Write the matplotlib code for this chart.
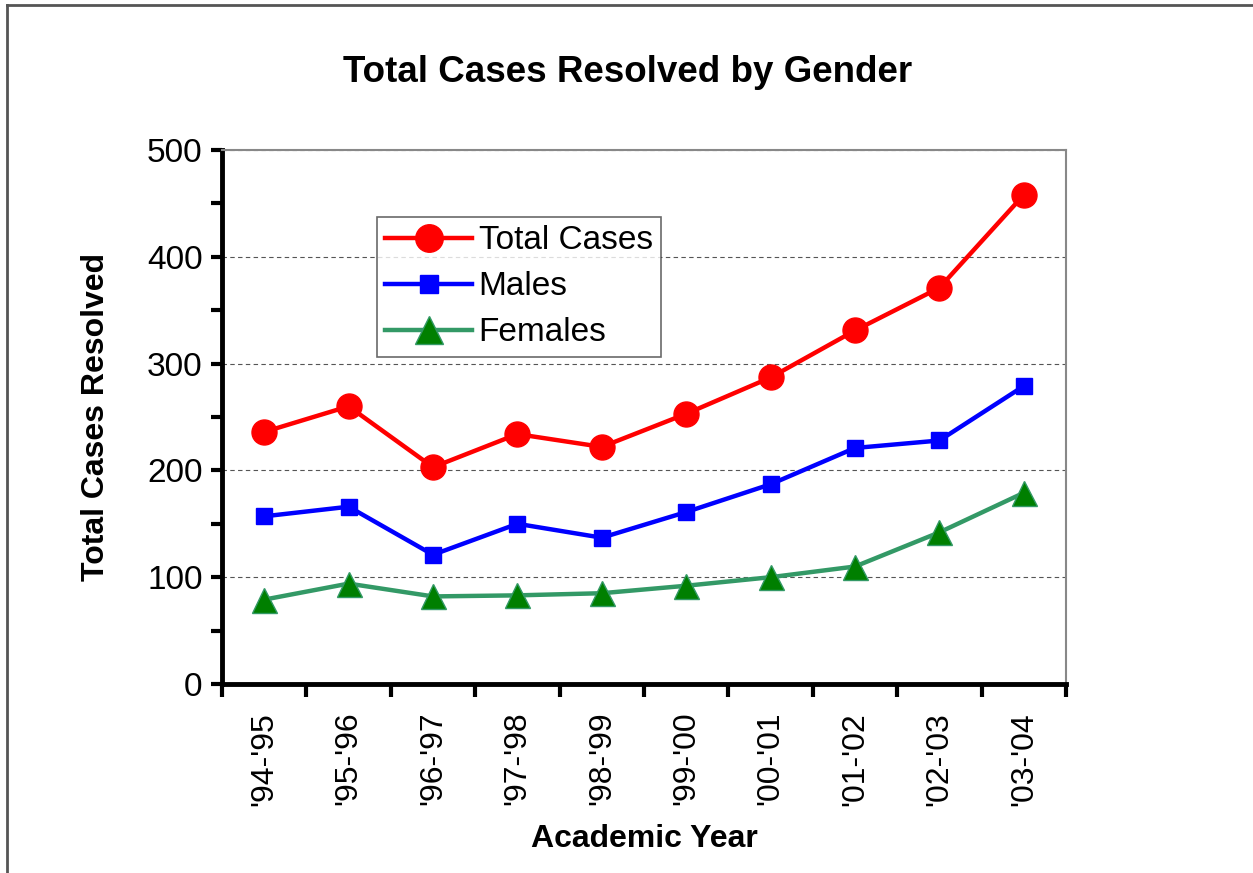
import matplotlib
matplotlib.use("Agg")
import matplotlib.pyplot as plt
from matplotlib.lines import Line2D
from matplotlib.ticker import MultipleLocator, FixedLocator

years = ["'94-'95", "'95-'96", "'96-'97", "'97-'98", "'98-'99",
         "'99-'00", "'00-'01", "'01-'02", "'02-'03", "'03-'04"]
total_cases = [236, 260, 203, 234, 222, 253, 287, 331, 371, 458]
males = [157, 166, 121, 150, 137, 161, 187, 221, 228, 279]
females = [79, 94, 82, 83, 85, 92, 100, 110, 142, 179]

plt.rcParams['font.family'] = ['Liberation Sans', 'DejaVu Sans']

W, H = 1253, 873
fig = plt.figure(figsize=(W / 100, H / 100), dpi=100)
ax = fig.add_axes([222 / W, 1 - 684 / H, (1066 - 222) / W, (684 - 150) / H])

x = list(range(len(years)))
ax.plot(x, total_cases, color='#ff0000', lw=3.2, marker='o', ms=18,
        mfc='#ff0000', mec='#ff0000', label='Total Cases', zorder=5)
ax.plot(x, males, color='#0000ff', lw=3.2, marker='s', ms=12,
        mfc='#0000ff', mec='#0000ff', label='Males', zorder=5)
ax.plot(x, females, color='#339966', lw=3.2, marker='^', ms=18,
        mfc='#007f00', mec='#339966', label='Females', zorder=5)

ax.set_xlim(-0.5, len(years) - 0.5)
ax.set_ylim(0, 500)

ax.yaxis.set_major_locator(MultipleLocator(100))
ax.yaxis.set_minor_locator(MultipleLocator(50))
ax.grid(axis='y', which='major', color='#555555', ls=(0, (4, 3)), lw=0.8)
ax.set_axisbelow(True)

ax.xaxis.set_major_locator(FixedLocator(x))
ax.xaxis.set_minor_locator(FixedLocator([i - 0.5 for i in range(len(years) + 1)]))
ax.set_xticklabels(years, rotation=90, fontsize=23)
ax.tick_params(axis='x', which='major', length=0, pad=20)
ax.tick_params(axis='x', which='minor', length=9, width=3, direction='out')
ax.tick_params(axis='y', which='both', length=8, width=3, direction='out', labelsize=24, pad=6)

for s in ['left', 'bottom']:
    ax.spines[s].set_linewidth(3.5)
    ax.spines[s].set_color('black')
for s in ['top', 'right']:
    ax.spines[s].set_linewidth(1.5)
    ax.spines[s].set_color('#888888')

ax.set_ylabel('Total Cases Resolved', fontsize=23, fontweight='bold', labelpad=26)
ax.set_xlabel('Academic Year', fontsize=23, fontweight='bold', labelpad=13)
fig.text(628 / W, 1 - 72 / H, 'Total Cases Resolved by Gender', fontsize=26.5,
         fontweight='bold', ha='center', va='center')

leg = ax.legend(loc='upper left', bbox_to_anchor=((377 - 222) / (1066 - 222), (684 - 217) / (684 - 150)),
                fontsize=24, frameon=True, fancybox=False, edgecolor='#444444',
                handlelength=2.6, borderpad=0.25, labelspacing=0.45, handletextpad=0.2,
                borderaxespad=0, markerscale=1.1)
leg.get_frame().set_linewidth(1.2)

fig.add_artist(Line2D([7 / W, 7 / W], [0, 1 - 5 / H], transform=fig.transFigure,
                      color='#555555', lw=2))
fig.add_artist(Line2D([7 / W, 1], [1 - 5 / H, 1 - 5 / H], transform=fig.transFigure,
                      color='#555555', lw=2))

fig.savefig('out.png', dpi=100)
